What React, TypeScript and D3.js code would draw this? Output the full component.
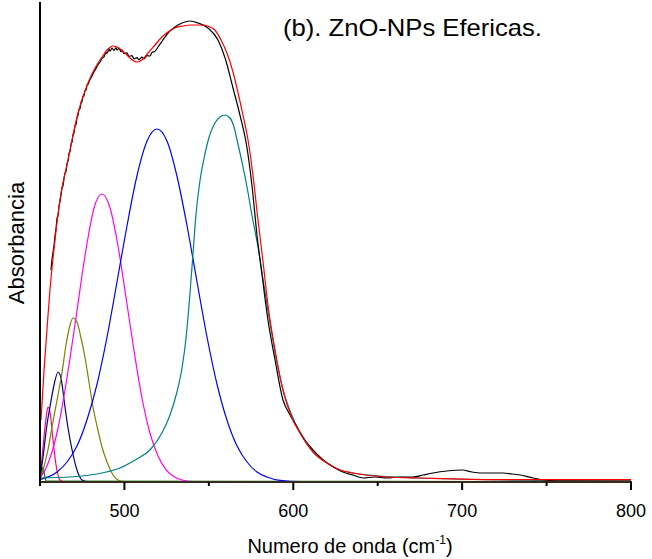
import React from "react";
import * as d3 from "d3";

type Pt = [number, number];

const xTicksMajor = [500, 600, 700, 800];
const xTicksMinor = [450, 550, 650, 750];

const title = "(b). ZnO-NPs Efericas.";
const yLabel = "Absorbancia";
const xLabelMain = "Numero de onda (cm";
const xLabelSup = "-1";

// experimental spectrum (black), noisy on the rising edge and plateau
const experimental: Pt[] = [
  [456.5, 0.53], [457.1, 0.556], [457.7, 0.574], [458.3, 0.592], [458.9, 0.616],
  [459.5, 0.634], [460.1, 0.66], [460.7, 0.666], [461.3, 0.69], [461.8, 0.7],
  [462.4, 0.716], [463.0, 0.734], [463.6, 0.74], [464.2, 0.758], [464.8, 0.772],
  [465.4, 0.776], [466.0, 0.796], [466.6, 0.802], [467.2, 0.822], [467.8, 0.826],
  [468.4, 0.846], [469.0, 0.85], [469.5, 0.868], [470.1, 0.872], [470.7, 0.89],
  [471.3, 0.893], [471.9, 0.911], [472.5, 0.916], [473.1, 0.931], [473.7, 0.933],
  [474.3, 0.949], [474.9, 0.951], [475.5, 0.964], [476.1, 0.966], [476.6, 0.978],
  [477.2, 0.979], [477.8, 0.991], [478.4, 0.994], [479.6, 1.006], [480.8, 1.015],
  [482.0, 1.026], [483.2, 1.034], [484.3, 1.043], [485.5, 1.05], [486.7, 1.059],
  [487.9, 1.063], [489.1, 1.074], [489.7, 1.072], [490.9, 1.082], [491.5, 1.077],
  [492.6, 1.085], [493.8, 1.079], [495.0, 1.086], [495.6, 1.08], [496.8, 1.084],
  [498.0, 1.076], [498.6, 1.08], [499.7, 1.071], [501.5, 1.073], [502.7, 1.064],
  [504.5, 1.066], [505.7, 1.058], [507.4, 1.061], [508.6, 1.056], [510.4, 1.062],
  [511.6, 1.058], [513.4, 1.066], [515.1, 1.065], [516.3, 1.074], [518.1, 1.077],
  [519.9, 1.0875], [522.8, 1.105], [525.8, 1.1225],
  [529.9, 1.1375], [534.1, 1.1475], [538.8, 1.1525], [543.6, 1.1475], [549.5, 1.135],
  [555.4, 1.105], [559.6, 1.06], [564.3, 0.985], [568.4, 0.9175], [572.6, 0.835],
  [575.5, 0.7425], [578.5, 0.6175], [581.5, 0.5175], [585.0, 0.405], [589.2, 0.305],
  [593.9, 0.205], [598.1, 0.1675], [602.2, 0.1375], [606.9, 0.105], [611.7, 0.08],
  [615.8, 0.0625], [620.0, 0.0475], [624.7, 0.035], [629.4, 0.025], [635.4, 0.0175],
  [641.3, 0.01], [648.4, 0.0125], [655.5, 0.01], [663.2, 0.0125], [670.9, 0.0125],
  [676.8, 0.0175], [682.7, 0.0225], [691.0, 0.0275], [699.9, 0.03], [705.8, 0.025],
  [710.6, 0.0225], [717.7, 0.0225], [724.2, 0.0225], [729.5, 0.02], [734.3, 0.0175],
  [742.0, 0.01], [749.1, 0.005], [758.0, 0.0025], [800, 0.0025],
];

// cumulative fit (red)
const fitSum: Pt[] = [
  [450.6, 0.155], [452.4, 0.28], [454.1, 0.38], [455.9, 0.48], [458.9, 0.605],
  [461.8, 0.705], [466.6, 0.805], [472.5, 0.9225], [478.4, 0.9975], [482.6, 1.035],
  [486.7, 1.0625], [490.3, 1.0825], [493.2, 1.09], [496.8, 1.085], [500.3, 1.0725],
  [503.9, 1.0575], [507.4, 1.05], [511.0, 1.0575], [514.0, 1.0725], [518.1, 1.0925],
  [522.2, 1.1125], [525.8, 1.125], [529.9, 1.135], [534.7, 1.14], [540.0, 1.1425],
  [546.5, 1.1425], [550.7, 1.1375], [553.6, 1.13], [557.2, 1.105], [560.7, 1.0725],
  [564.3, 1.025], [567.3, 0.9725], [570.2, 0.9175], [573.2, 0.855], [576.1, 0.7675],
  [579.1, 0.655], [582.1, 0.55], [585.0, 0.4425], [589.2, 0.33], [593.9, 0.23],
  [599.2, 0.16], [604.0, 0.1225], [611.7, 0.075], [620.0, 0.0475], [627.7, 0.03],
  [635.4, 0.0225], [655.5, 0.0125], [675.0, 0.01], [722.4, 0.006], [800, 0.006],
];

const peakTeal: Pt[] = [
  [450, 0.01], [467.8, 0.0125], [486.7, 0.0225], [497.4, 0.035], [506.3, 0.055],
  [515.1, 0.08], [522.2, 0.1225], [527.0, 0.1675], [531.1, 0.225], [534.1, 0.285],
  [536.5, 0.36], [538.5, 0.455], [540.6, 0.57], [542.4, 0.67], [544.8, 0.755],
  [547.2, 0.81], [549.5, 0.8525], [553.6, 0.8975], [556.6, 0.9125], [559.6, 0.9175],
  [562.5, 0.91], [564.9, 0.8875], [566.7, 0.855], [569.6, 0.8], [572.6, 0.7375],
  [575.5, 0.6675], [579.1, 0.5875], [582.6, 0.4925], [586.2, 0.3975], [589.8, 0.31],
  [593.9, 0.23], [598.6, 0.1725], [604.0, 0.1225], [611.7, 0.075], [620.0, 0.0475],
  [627.7, 0.03], [635.4, 0.0225], [651.3, 0.015], [675.0, 0.01], [722.4, 0.005],
  [800, 0.0025],
];

const peakBlue: Pt[] = [
  [450, 0.006], [460.1, 0.025], [466.0, 0.05], [471.9, 0.09], [477.8, 0.155],
  [483.8, 0.245], [489.7, 0.3625], [495.6, 0.5], [501.5, 0.64], [507.4, 0.765],
  [513.4, 0.8525], [519.3, 0.8825], [525.2, 0.8525], [531.1, 0.765], [537.1, 0.64],
  [543.0, 0.5], [548.9, 0.3625], [554.8, 0.245], [560.7, 0.155], [566.7, 0.09],
  [572.6, 0.05], [578.5, 0.025], [584.4, 0.0125], [592.1, 0.004], [604.0, 0.001],
  [800, 0.001],
];

const peakMagenta: Pt[] = [
  [450, 0.01], [453.6, 0.035], [457.1, 0.075], [460.7, 0.135], [464.2, 0.215],
  [467.8, 0.31], [471.3, 0.41], [474.9, 0.5175], [478.4, 0.61], [482.0, 0.685],
  [486.7, 0.72], [491.5, 0.685], [496.2, 0.59], [500.9, 0.4625], [505.7, 0.3275],
  [510.4, 0.21], [515.1, 0.1225], [519.9, 0.065], [524.6, 0.031], [529.4, 0.013],
  [534.1, 0.005], [541.8, 0.001], [800, 0.001],
];

const peakOlive: Pt[] = [
  [450, 0.0025], [451.8, 0.03], [454.7, 0.08], [457.1, 0.1375], [460.1, 0.205],
  [463.0, 0.2725], [465.4, 0.3425], [467.8, 0.3925], [469.5, 0.41], [471.9, 0.4],
  [474.3, 0.36], [476.6, 0.3125], [479.0, 0.25], [481.4, 0.1875], [484.3, 0.13],
  [486.7, 0.0875], [489.7, 0.05], [492.6, 0.0225], [496.2, 0.005], [500.3, 0.001],
  [800, 0.001],
];

const peakNavy: Pt[] = [
  [450, 0.0075], [451.8, 0.0625], [454.1, 0.1425], [455.9, 0.1875], [458.3, 0.2425],
  [460.7, 0.275], [462.4, 0.26], [464.8, 0.1875], [466.6, 0.135], [469.0, 0.08],
  [471.9, 0.03], [474.9, 0.005], [478.4, 0.001], [800, 0.001],
];

const peakPink: Pt[] = [
  [450, 0.01], [451.8, 0.0875], [453.6, 0.16], [454.7, 0.1875], [455.9, 0.175],
  [457.7, 0.105], [459.5, 0.0425], [461.8, 0.005], [463.6, 0.001], [800, 0.001],
];

const peakGreen: Pt[] = [
  [450, 0.0025], [451.2, 0.025], [451.8, 0.0375], [452.4, 0.025], [453.6, 0.0025],
  [800, 0.001],
];

const series: { data: Pt[]; color: string }[] = [
  { data: peakGreen, color: "#008000" },
  { data: peakPink, color: "#FF0080" },
  { data: peakNavy, color: "#000080" },
  { data: peakOlive, color: "#808000" },
  { data: peakMagenta, color: "#FF00FF" },
  { data: peakBlue, color: "#0000FF" },
  { data: peakTeal, color: "#008080" },
  { data: experimental, color: "#000000" },
  { data: fitSum, color: "#FF0000" },
];

export default function App() {
  const W = 652;
  const H = 559;
  const left = 40;
  const right = 631;
  const top = 2;
  const bottom = 482;

  const x = d3.scaleLinear().domain([450, 800]).range([left, right]);
  const y = d3.scaleLinear().domain([0, 1.2]).range([bottom, top]);

  const lineGen = d3
    .line<Pt>()
    .x((d) => x(d[0]))
    .y((d) => y(d[1]))
    .curve(d3.curveMonotoneX);

  const font = "'Liberation Sans', Arial, Helvetica, sans-serif";

  return (
    <svg
      width={W}
      height={H}
      style={{ position: "absolute", left: 0, top: 0, background: "#fff" }}
      fontFamily={font}
    >
      <defs>
        <clipPath id="plotClip">
          <rect x={left} y={0} width={right - left + 2} height={bottom} />
        </clipPath>
      </defs>
      <g clipPath="url(#plotClip)">
        {series.map((s, i) => (
          <path
            key={i}
            d={lineGen(s.data) || ""}
            fill="none"
            stroke={s.color}
            strokeWidth={1.2}
          />
        ))}
      </g>
      <line x1={left} x2={right + 1} y1={bottom} y2={bottom} stroke="#3a2a20" strokeWidth={2} />
      <line x1={left} x2={left} y1={top} y2={bottom + 1} stroke="#000" strokeWidth={2} />
      {xTicksMajor.map((t) => (
        <g key={"M" + t}>
          <line x1={x(t)} x2={x(t)} y1={bottom} y2={bottom + 8} stroke="#000" strokeWidth={2} />
          <text x={x(t)} y={517} textAnchor="middle" fontSize={18} fill="#000">
            {t}
          </text>
        </g>
      ))}
      {xTicksMinor.map((t) => (
        <line key={"m" + t} x1={x(t)} x2={x(t)} y1={bottom} y2={bottom + 4} stroke="#000" strokeWidth={2} />
      ))}
      <text x={283} y={36} fontSize={24} fill="#000" textLength={259} lengthAdjust="spacingAndGlyphs">
        {title}
      </text>
      <text transform="translate(24,243) rotate(-90)" textAnchor="middle" fontSize={22} fill="#000">
        {yLabel}
      </text>
      <text x={350} y={553} textAnchor="middle" fontSize={20} fill="#000">
        {xLabelMain}
        <tspan fontSize={12} dy={-9}>{xLabelSup}</tspan>
        <tspan dy={9}>)</tspan>
      </text>
    </svg>
  );
}
